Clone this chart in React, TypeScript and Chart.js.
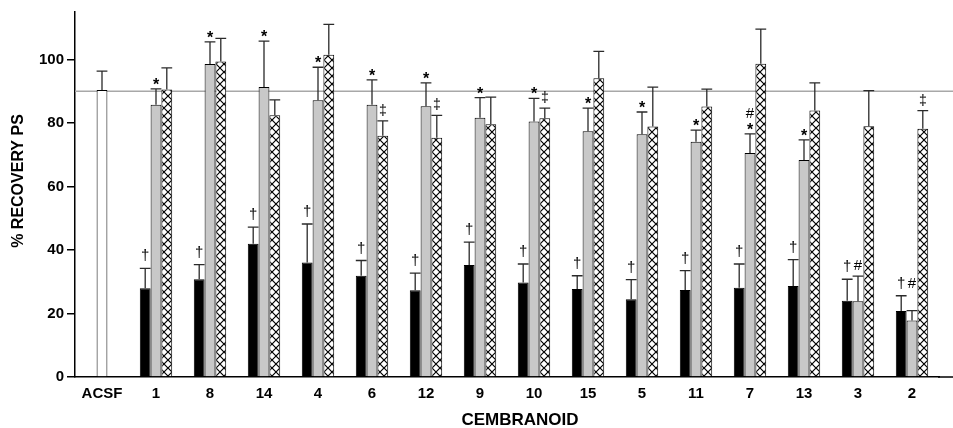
import React, { useEffect, useRef } from "react";
import { Chart, registerables } from "chart.js";
Chart.register(...registerables);

const categories = ["ACSF", "1", "8", "14", "4", "6", "12", "9", "10", "15", "5", "11", "7", "13", "3", "2"];
const blackValues = [null, 28.0, 30.8, 42.0, 36.1, 31.9, 27.3, 35.3, 29.8, 27.7, 24.5, 27.4, 28.1, 28.7, 24.0, 20.8];
const blackErrors = [null, 6.2, 4.6, 5.2, 12.1, 4.8, 5.4, 7.2, 5.8, 4.2, 6.2, 6.1, 7.5, 8.3, 6.8, 4.8];
const grayValues = [90.4, 85.8, 98.6, 91.4, 87.2, 85.8, 85.3, 81.7, 80.5, 77.4, 76.5, 74.1, 70.6, 68.4, 23.9, 17.8];
const grayErrors = [6.0, 5.0, 7.0, 14.4, 10.4, 7.8, 7.4, 6.3, 7.3, 7.3, 7.0, 3.7, 6.0, 6.3, 7.9, 3.1];
const hatchValues = [null, 90.6, 99.4, 82.5, 101.5, 76.0, 75.4, 79.6, 81.5, 94.1, 78.9, 85.2, 98.7, 84.0, 79.0, 78.2];
const hatchErrors = [null, 6.8, 7.3, 4.8, 9.6, 4.7, 7.0, 8.6, 3.2, 8.5, 12.4, 5.5, 10.9, 8.7, 11.2, 5.7];
const blackMarks = ["", "†", "†", "†", "†", "†", "†", "†", "†", "†", "†", "†", "†", "†", "†", "†"];
const grayMarks = ["", "*", "*", "*", "*", "*", "*", "*", "*", "*", "*", "*", "#|*", "*", "#", "#"];
const hatchMarks = ["", "", "", "", "", "‡", "‡", "", "‡", "", "", "", "", "", "", "‡"];
const referenceValue = 90;
const yTickValues = [0, 20, 40, 60, 80, 100];
const yMax = 115;
const xTitle = "CEMBRANOID";
const yTitle = "% RECOVERY PS";

const FONT = "'Liberation Sans', Arial, sans-serif";

function makeHatch(): CanvasPattern | string {
  const c = document.createElement("canvas");
  c.width = 8;
  c.height = 8;
  const g = c.getContext("2d");
  if (!g) return "#fff";
  g.fillStyle = "#fff";
  g.fillRect(0, 0, 8, 8);
  g.strokeStyle = "#000";
  g.lineWidth = 1.2;
  g.beginPath();
  g.moveTo(-1, -1);
  g.lineTo(9, 9);
  g.moveTo(9, -1);
  g.lineTo(-1, 9);
  g.stroke();
  const p = g.createPattern(c, "repeat");
  return p || "#fff";
}

export default function App() {
  const ref = useRef<HTMLCanvasElement | null>(null);
  useEffect(() => {
    document.body.style.margin = "0";
    const canvas = ref.current;
    if (!canvas) return;
    const hatch = makeHatch();
    const valueSets = [blackValues, grayValues, hatchValues];
    const errorSets = [blackErrors, grayErrors, hatchErrors];
    const markSets = [blackMarks, grayMarks, hatchMarks];

    const overlay = {
      id: "overlay",
      beforeDatasetsDraw(chart: any) {
        const { ctx, chartArea, scales } = chart;
        const y = scales.y.getPixelForValue(referenceValue);
        ctx.save();
        ctx.strokeStyle = "#a8a8a8";
        ctx.lineWidth = 1.5;
        ctx.beginPath();
        ctx.moveTo(chartArea.left, y);
        ctx.lineTo(chart.width, y);
        ctx.stroke();
        ctx.restore();
      },
      afterDatasetsDraw(chart: any) {
        const { ctx, scales } = chart;
        ctx.save();
        for (let d = 0; d < 3; d++) {
          const meta = chart.getDatasetMeta(d);
          const vals = valueSets[d];
          meta.data.forEach((bar: any, i: number) => {
            const v = vals[i];
            const e = errorSets[d][i];
            if (v == null || e == null) return;
            const top = scales.y.getPixelForValue(v + e);
            const base = scales.y.getPixelForValue(v);
            const half = bar.width / 2;
            ctx.strokeStyle = "#2a2a2a";
            ctx.lineWidth = 1.3;
            ctx.beginPath();
            ctx.moveTo(bar.x, base);
            ctx.lineTo(bar.x, top);
            ctx.moveTo(bar.x - half, top);
            ctx.lineTo(bar.x + half, top);
            ctx.stroke();
            const mark = markSets[d][i];
            if (!mark) return;
            ctx.fillStyle = "#000";
            ctx.textAlign = "center";
            ctx.textBaseline = "alphabetic";
            const parts = mark.split("|").reverse();
            let yb = top;
            parts.forEach((m: string) => {
              if (m === "*") {
                ctx.font = `bold 16px ${FONT}`;
                ctx.fillText(m, bar.x, yb + 1);
                yb -= 10;
              } else if (m === "†") {
                ctx.font = `15px ${FONT}`;
                ctx.fillText(m, bar.x, yb - 8);
                yb -= 22;
              } else if (m === "‡") {
                ctx.font = `14px ${FONT}`;
                ctx.fillText(m, bar.x, yb - 6);
                yb -= 20;
              } else {
                // '#' alone on the gray bar sits level with the black bar's dagger
                let by = yb - 6;
                const bv = blackValues[i];
                const be = blackErrors[i];
                if (mark === "#" && bv != null && be != null) {
                  by = Math.min(by, scales.y.getPixelForValue(bv + be) - 8);
                }
                ctx.font = `15px ${FONT}`;
                ctx.fillText(m, bar.x, by);
                yb -= 20;
              }
            });
          });
        }
        ctx.restore();
      },
      afterDraw(chart: any) {
        const { ctx, chartArea } = chart;
        ctx.save();
        ctx.strokeStyle = "#000";
        ctx.lineWidth = 1.5;
        ctx.beginPath();
        ctx.moveTo(chartArea.right - 1, chartArea.bottom);
        ctx.lineTo(chart.width, chartArea.bottom);
        ctx.stroke();
        ctx.fillStyle = "#000";
        ctx.font = `bold 17px ${FONT}`;
        ctx.textAlign = "center";
        ctx.textBaseline = "middle";
        ctx.fillText(xTitle, chartArea.left + 445, chartArea.bottom + 43);
        ctx.translate(19, chartArea.top + 169);
        ctx.rotate(-Math.PI / 2);
        ctx.font = `bold 16px ${FONT}`;
        ctx.fillText(yTitle, 0, 0);
        ctx.restore();
      },
    };

    const chart = new Chart(canvas, {
      type: "bar",
      data: {
        labels: categories,
        datasets: [
          {
            data: blackValues as any,
            backgroundColor: "#000",
            borderColor: "#000",
            borderWidth: 1,
          },
          {
            data: grayValues,
            backgroundColor: grayValues.map((_, i) => (i === 0 ? "#fff" : "#c8c8c8")),
            borderColor: "#000",
            borderWidth: 1,
          },
          {
            data: hatchValues as any,
            backgroundColor: hatch as any,
            borderColor: "#000",
            borderWidth: 1,
          },
        ],
      },
      options: {
        animation: false,
        responsive: true,
        maintainAspectRatio: false,
        datasets: { bar: { categoryPercentage: 0.6, barPercentage: 1 } },
        layout: { padding: { top: 12, right: 14, left: 0, bottom: 0 } },
        plugins: { legend: { display: false }, tooltip: { enabled: false } },
        scales: {
          x: {
            grid: { display: false },
            border: { display: true, color: "#000", width: 1.5 },
            ticks: {
              color: "#000",
              font: { family: FONT, size: 15, weight: "bold" },
              padding: 0,
              maxRotation: 0,
              autoSkip: false,
            },
            afterFit(scale: any) {
              scale.height = 51;
            },
          },
          y: {
            min: 0,
            max: yMax,
            grid: { display: true, drawOnChartArea: false, drawTicks: true, tickLength: 8, color: "#000", lineWidth: 1.5 },
            border: { display: true, color: "#000", width: 1.5 },
            ticks: {
              color: "#000",
              font: { family: FONT, size: 15, weight: "bold" },
              padding: 3,
              stepSize: 20,
            },
            afterBuildTicks(scale: any) {
              scale.ticks = yTickValues.map((v) => ({ value: v }));
            },
            afterFit(scale: any) {
              scale.width = 75;
            },
          },
        },
      },
      plugins: [overlay],
    });
    return () => chart.destroy();
  }, []);

  return (
    <div style={{ width: 953, height: 428, position: "relative", background: "#fff" }}>
      <canvas ref={ref} />
    </div>
  );
}
